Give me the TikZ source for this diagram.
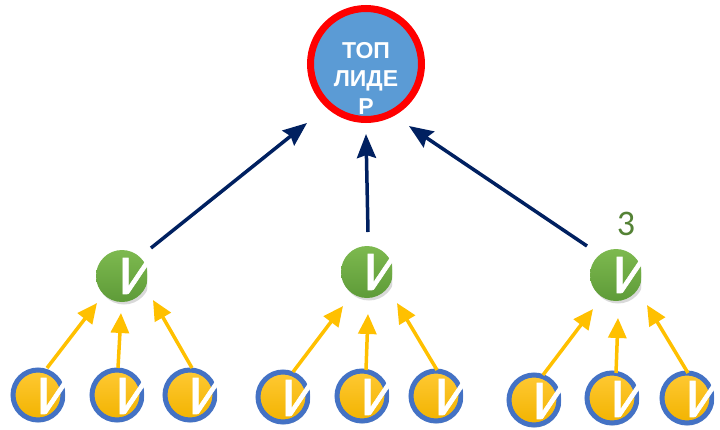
\documentclass[tikz,border=0pt]{standalone}
\usepackage{fontspec}
\setmainfont{Carlito}
\newfontfamily\arialfont{Liberation Sans}
\newfontfamily\letterfont[FakeBold=1.2, FakeStretch=1.08]{Carlito}
\usetikzlibrary{arrows.meta,shadows}
\definecolor{topblue}{HTML}{5B9BD5}
\definecolor{topred}{HTML}{FF0000}
\definecolor{navyline}{HTML}{002060}
\definecolor{greenlight}{HTML}{7DB94F}
\definecolor{greendark}{HTML}{5E9B38}
\definecolor{yellowlight}{HTML}{FFC933}
\definecolor{yellowdark}{HTML}{F2B300}
\definecolor{memblue}{HTML}{4472C4}
\definecolor{arrowyellow}{HTML}{FFC000}
\definecolor{numgreen}{HTML}{548235}
\begin{document}
\begin{tikzpicture}[x=1pt,y=-1pt,
  topnode/.style={circle, draw=topred, line width=7pt, fill=topblue, minimum size=111pt, inner sep=0pt},
  lettr/.style={font=\letterfont\fontsize{56}{56}\selectfont, text=white, inner sep=0pt},
  leader/.style={circle, minimum size=52pt, inner sep=0pt, draw=none,
    top color=greenlight, bottom color=greendark,
    drop shadow={opacity=0.3, shadow xshift=2pt, shadow yshift=-2.5pt},
    label={[lettr, xshift=16pt]center:И}},
  member/.style={circle, minimum size=50pt, inner sep=0pt, draw=memblue, line width=5pt,
    top color=yellowlight, bottom color=yellowdark,
    drop shadow={opacity=0.25, shadow xshift=1pt, shadow yshift=-2.5pt},
    label={[lettr, xshift=18pt, yshift=-1pt]center:И}},
  navyarrow/.style={draw=navyline, line width=3.5pt, -{Stealth[length=24pt, width=19pt, inset=3pt]}},
  yelarrow/.style={draw=arrowyellow, line width=3.5pt, -{Triangle[length=20pt, width=18pt]}}
]
\useasboundingbox (0,0) rectangle (720,429);

% top leader
\node[topnode, label={[text=white, align=center, inner sep=0pt,
   font=\arialfont\bfseries\fontsize{23}{28}\selectfont, yshift=-14.5pt]center:{ТОП\\ЛИДЕ\\Р}}] (top) at (366,64) {};

% leaders
\node[leader] (g1) at (122,276) {};
\node[leader] (g2) at (367,272) {};
\node[leader] (g3) at (616,275) {};

\node[font=\fontsize{36}{36}\selectfont, text=numgreen, inner sep=0pt] (n3) at (626,224) {3};

% members
\node[member] (m1) at (38,395) {};
\node[member] (m2) at (117,395) {};
\node[member] (m3) at (190,395) {};
\node[member] (m4) at (283,397) {};
\node[member] (m5) at (362,396) {};
\node[member] (m6) at (436,396) {};
\node[member] (m7) at (534,400) {};
\node[member] (m8) at (612,398) {};
\node[member] (m9) at (687,398) {};

% navy arrows
\draw[navyarrow] ([shift={(29,-28)}]g1.center) -- ([shift={(-59,59)}]top.center);
\draw[navyarrow] ([shift={(1,-40)}]g2.center) -- ([shift={(0,70)}]top.center);
\draw[navyarrow] ([shift={(-29,-29)}]g3.center) -- ([shift={(43,62)}]top.center);

% yellow arrows
\draw[yelarrow] ([shift={(9,-27)}]m1.center) -- ([shift={(-25,27)}]g1.center);
\draw[yelarrow] ([shift={(1,-27)}]m2.center) -- ([shift={(-1,37)}]g1.center);
\draw[yelarrow] ([shift={(2,-27)}]m3.center) -- ([shift={(31,24)}]g1.center);
\draw[yelarrow] ([shift={(10,-25)}]m4.center) -- ([shift={(-24,34)}]g2.center);
\draw[yelarrow] ([shift={(4,-26)}]m5.center) -- ([shift={(1,42)}]g2.center);
\draw[yelarrow] ([shift={(1,-26)}]m6.center) -- ([shift={(30,31)}]g2.center);
\draw[yelarrow] ([shift={(9,-25)}]m7.center) -- ([shift={(-23,34)}]g3.center);
\draw[yelarrow] ([shift={(4,-25)}]m8.center) -- ([shift={(2,43)}]g3.center);
\draw[yelarrow] ([shift={(1,-25)}]m9.center) -- ([shift={(31,30)}]g3.center);
\end{tikzpicture}
\end{document}
